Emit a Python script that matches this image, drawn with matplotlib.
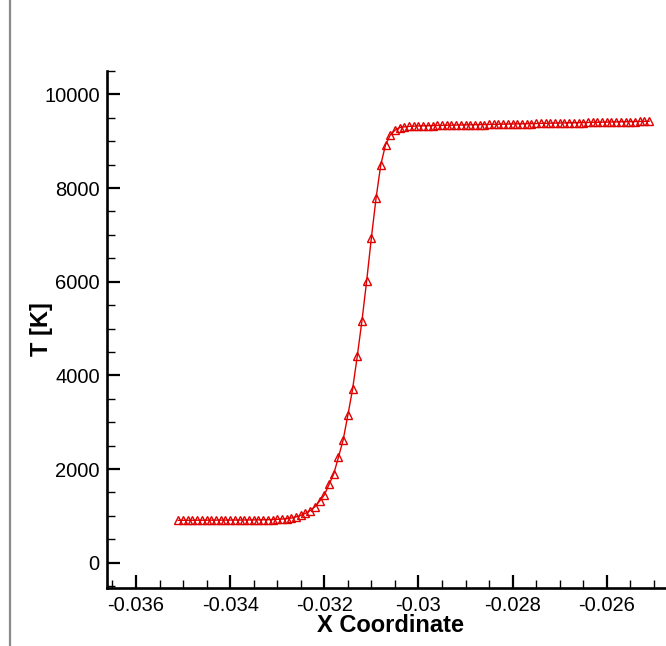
import matplotlib
matplotlib.use("Agg")
import matplotlib.pyplot as plt
from matplotlib.ticker import MultipleLocator, FuncFormatter
from matplotlib.lines import Line2D

plt.rcParams['font.family'] = ['Liberation Sans', 'DejaVu Sans']

# Data: X coordinate and temperature T [K]
x_coord = [
    -0.0351, -0.0350, -0.0349, -0.0348, -0.0347, -0.0346, -0.0345, -0.0344, -0.0343, -0.0342,
    -0.0341, -0.0340, -0.0339, -0.0338, -0.0337, -0.0336, -0.0335, -0.0334, -0.0333, -0.0332,
    -0.0331, -0.0330, -0.0329, -0.0328, -0.0327, -0.0326, -0.0325, -0.0324, -0.0323, -0.0322,
    -0.0321, -0.0320, -0.0319, -0.0318, -0.0317, -0.0316, -0.0315, -0.0314, -0.0313, -0.0312,
    -0.0311, -0.0310, -0.0309, -0.0308, -0.0307, -0.0306, -0.0305, -0.0304, -0.0303, -0.0302,
    -0.0301, -0.0300, -0.0299, -0.0298, -0.0297, -0.0296, -0.0295, -0.0294, -0.0293, -0.0292,
    -0.0291, -0.0290, -0.0289, -0.0288, -0.0287, -0.0286, -0.0285, -0.0284, -0.0283, -0.0282,
    -0.0281, -0.0280, -0.0279, -0.0278, -0.0277, -0.0276, -0.0275, -0.0274, -0.0273, -0.0272,
    -0.0271, -0.0270, -0.0269, -0.0268, -0.0267, -0.0266, -0.0265, -0.0264, -0.0263, -0.0262,
    -0.0261, -0.0260, -0.0259, -0.0258, -0.0257, -0.0256, -0.0255, -0.0254, -0.0253, -0.0252,
    -0.0251,
]
temperature = [
    905, 905, 906, 906, 907, 907, 908, 908, 909, 909,
    910, 910, 911, 911, 912, 913, 914, 915, 917, 919,
    922, 926, 932, 941, 954, 978, 1010, 1055, 1112, 1195,
    1315, 1445, 1670, 1895, 2250, 2620, 3150, 3700, 4410, 5170,
    6020, 6940, 7790, 8500, 8920, 9130, 9235, 9290, 9308, 9316,
    9322, 9326, 9329, 9332, 9334, 9337, 9339, 9341, 9343, 9345,
    9347, 9349, 9351, 9353, 9355, 9357, 9359, 9361, 9363, 9365,
    9367, 9369, 9371, 9373, 9375, 9377, 9379, 9381, 9383, 9385,
    9387, 9389, 9391, 9393, 9395, 9397, 9399, 9401, 9403, 9405,
    9407, 9409, 9411, 9413, 9415, 9417, 9419, 9421, 9423, 9425,
    9427,
]

x_label = "X Coordinate"
y_label = "T [K]"

fig = plt.figure(figsize=(6.66, 6.46), dpi=100)
ax = fig.add_axes([0.1611, 0.0898, 0.839, 0.8003])

ax.plot(x_coord, temperature, color='#e00000', linewidth=1.0,
        marker='^', markersize=6.3, markerfacecolor='none',
        markeredgecolor='#e00000', markeredgewidth=1.0, clip_on=False)

ax.set_xlim(-0.03661, -0.02474)
ax.set_ylim(-540, 10500)

ax.xaxis.set_major_locator(MultipleLocator(0.002))
ax.xaxis.set_minor_locator(MultipleLocator(0.0005))
ax.yaxis.set_major_locator(MultipleLocator(2000))
ax.yaxis.set_minor_locator(MultipleLocator(500))
ax.xaxis.set_major_formatter(FuncFormatter(lambda v, p: '%g' % round(v, 6)))
ax.yaxis.set_major_formatter(FuncFormatter(lambda v, p: '%d' % round(v)))

for s in ['top', 'right']:
    ax.spines[s].set_visible(False)
for s in ['left', 'bottom']:
    ax.spines[s].set_linewidth(1.9)

ax.tick_params(which='major', direction='in', length=9.5, width=1.6,
               labelsize=14.5, pad=5.5, colors='black')
ax.tick_params(which='minor', direction='in', length=5.8, width=1.0)

ax.set_xlabel(x_label, fontsize=17, fontweight='bold')
ax.set_ylabel(y_label, fontsize=17, fontweight='bold')
ax.xaxis.set_label_coords(0.506, -0.05)
ax.yaxis.set_label_coords(-0.098, 0.5)

# thin gray vertical rule at left edge
fig.add_artist(Line2D([10 / 666, 10 / 666], [0.0, 1.0], transform=fig.transFigure,
                      color='#8a8a8a', linewidth=1.6))

fig.savefig('out.png', dpi=100)
